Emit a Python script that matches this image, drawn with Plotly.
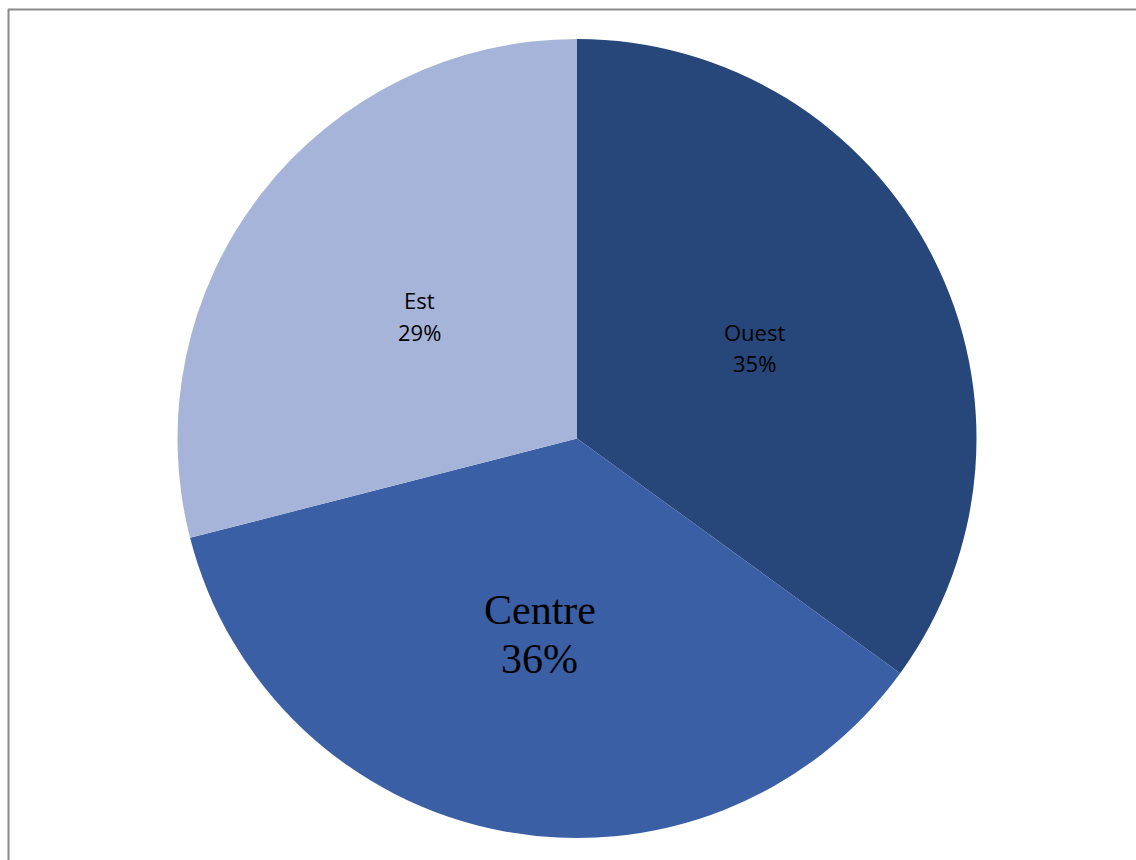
import math
import plotly.graph_objects as go

# Regional shares (percent)
regions = ["Ouest", "Centre", "Est"]
shares = [35, 36, 29]
colors = ["#27467A", "#3A5FA5", "#A7B4D9"]
label_fonts = [
    dict(family="Open Sans", size=22, color="black"),
    dict(family="Liberation Serif", size=42, color="black"),
    dict(family="Open Sans", size=22, color="black"),
]
# distance between the name line and the percent line, in pixels
line_gaps = [31, 49, 32]

W, H = 1136, 860
# pie placement in pixels
cx_px, cy_px, r_px = 577, 438.5, 399.5

dom_x = [(cx_px - r_px) / W, (cx_px + r_px) / W]
dom_y = [(H - cy_px - r_px) / H, (H - cy_px + r_px) / H]

fig = go.Figure(
    go.Pie(
        labels=regions,
        values=shares,
        sort=False,
        direction="clockwise",
        rotation=0,
        marker=dict(colors=colors, line=dict(width=0)),
        textinfo="none",
        hoverinfo="label+percent",
        showlegend=False,
        domain=dict(x=dom_x, y=dom_y),
    )
)

# labels at half radius, at each slice's mid-angle
total = sum(shares)
cum = 0.0
annotations = []
for name, val, font, gap in zip(regions, shares, label_fonts, line_gaps):
    mid = (cum + val / 2) / total * 2 * math.pi
    cum += val
    px = cx_px + 0.5 * r_px * math.sin(mid)
    py = cy_px - 0.5 * r_px * math.cos(mid)
    pct = round(val / total * 100)
    for txt, dy in ((name, -gap / 2), (f"{pct}%", gap / 2)):
        annotations.append(
            dict(
                x=px / W,
                y=1 - (py + dy) / H,
                xref="paper",
                yref="paper",
                text=txt,
                showarrow=False,
                font=font,
                xanchor="center",
                yanchor="middle",
                align="center",
            )
        )

# chart frame (top and left edges)
shapes = [
    dict(type="line", xref="paper", yref="paper",
         x0=8 / W, x1=1.0, y0=1 - 9.5 / H, y1=1 - 9.5 / H,
         line=dict(color="#8a8a8a", width=2)),
    dict(type="line", xref="paper", yref="paper",
         x0=8.5 / W, x1=8.5 / W, y0=0, y1=1 - 9 / H,
         line=dict(color="#8a8a8a", width=2)),
]

fig.update_layout(
    width=W,
    height=H,
    margin=dict(l=0, r=0, t=0, b=0),
    paper_bgcolor="white",
    plot_bgcolor="white",
    annotations=annotations,
    shapes=shapes,
)

fig.write_html("out.html")
